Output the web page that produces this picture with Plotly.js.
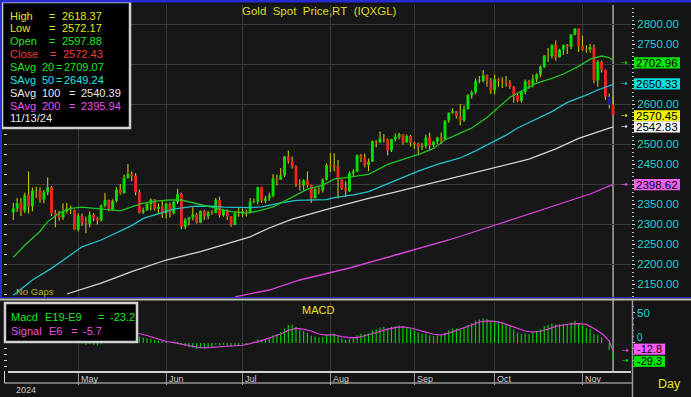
<!DOCTYPE html>
<html><head><meta charset="utf-8">
<script src="https://cdn.plot.ly/plotly-3.0.1.min.js"></script>
<style>html,body{margin:0;padding:0;background:#141414;overflow:hidden}#chart{width:691px;height:397px}</style>
</head><body><div id="chart"></div>
<script>
const FONT = 'Liberation Sans, Arial, sans-serif';
const yearLabel = '2024';
// trading days (MM-DD, 2024)
const dates = ['04-08','04-09','04-10','04-11','04-12','04-15','04-16','04-17','04-18','04-19','04-22','04-23','04-24','04-25','04-26','04-29','04-30',
'05-01','05-02','05-03','05-06','05-07','05-08','05-09','05-10','05-13','05-14','05-15','05-16','05-17','05-20','05-21','05-22','05-23','05-24','05-27','05-28','05-29','05-30','05-31',
'06-03','06-04','06-05','06-06','06-07','06-10','06-11','06-12','06-13','06-14','06-17','06-18','06-19','06-20','06-21','06-24','06-25','06-26','06-27','06-28',
'07-01','07-02','07-03','07-04','07-05','07-08','07-09','07-10','07-11','07-12','07-15','07-16','07-17','07-18','07-19','07-22','07-23','07-24','07-25','07-26','07-29','07-30','07-31',
'08-01','08-02','08-05','08-06','08-07','08-08','08-09','08-12','08-13','08-14','08-15','08-16','08-19','08-20','08-21','08-22','08-23','08-26','08-27','08-28','08-29','08-30',
'09-02','09-03','09-04','09-05','09-06','09-09','09-10','09-11','09-12','09-13','09-16','09-17','09-18','09-19','09-20','09-23','09-24','09-25','09-26','09-27','09-30',
'10-01','10-02','10-03','10-04','10-07','10-08','10-09','10-10','10-11','10-14','10-15','10-16','10-17','10-18','10-21','10-22','10-23','10-24','10-25','10-28','10-29','10-30','10-31',
'11-01','11-04','11-05','11-06','11-07','11-08','11-11','11-12','11-13'];

const openP = [2329,2339,2352,2333,2373,2344,2383,2383,2361,2379,2392,2327,2322,2316,2332,2338,2335,
2286,2320,2303,2301,2323,2314,2309,2346,2360,2336,2358,2386,2377,2415,2425,2421,2379,2329,2334,2350,2361,2338,2343,
2327,2350,2327,2355,2375,2293,2311,2316,2324,2303,2333,2319,2329,2328,2360,2322,2334,2319,2298,2327,
2326,2332,2330,2356,2356,2392,2358,2364,2371,2414,2411,2422,2469,2458,2445,2400,2396,2409,2397,2364,2387,2384,2411,
2447,2446,2443,2410,2390,2382,2427,2431,2472,2465,2447,2456,2507,2504,2514,2512,2484,2512,2518,2524,2504,2520,
2503,2500,2493,2495,2516,2497,2506,2516,2512,2558,2578,2582,2569,2559,2587,2622,2629,2657,2658,2672,2658,
2634,2662,2657,2656,2653,2643,2622,2608,2630,2657,2649,2662,2674,2693,2721,2720,2748,2717,2736,2747,2743,2774,2788,
2744,2736,2736,2742,2659,2706,2685,2618,2597.88];
const highP = [2353,2365,2365,2378,2431,2391,2393,2392,2385,2417,2395,2335,2333,2352,2353,2346,2336,
2326,2326,2319,2331,2327,2318,2349,2378,2361,2362,2392,2400,2423,2450,2431,2427,2386,2341,2353,2364,2362,2351,2360,
2354,2354,2358,2388,2378,2315,2318,2342,2328,2333,2335,2333,2335,2365,2368,2336,2336,2320,2332,2340,
2339,2336,2365,2364,2393,2393,2370,2378,2425,2424,2440,2470,2483,2469,2446,2412,2412,2431,2398,2390,2392,2414,2451,
2477,2477,2460,2412,2406,2431,2437,2474,2475,2476,2464,2509,2510,2531,2525,2514,2513,2526,2528,2525,2524,2523,
2505,2503,2503,2523,2529,2507,2518,2529,2560,2579,2589,2583,2600,2596,2625,2634,2664,2670,2685,2674,2665,
2673,2665,2667,2670,2660,2645,2625,2633,2661,2660,2673,2677,2696,2722,2740,2749,2759,2738,2749,2750,2775,2790,2789,
2771,2747,2750,2749,2710,2709,2686,2626,2618.37];
const lowP = [2310,2330,2320,2327,2326,2332,2365,2353,2352,2372,2320,2292,2308,2310,2326,2325,2285,
2281,2295,2277,2292,2307,2299,2306,2341,2332,2334,2354,2373,2376,2413,2407,2372,2326,2325,2333,2334,2334,2326,2315,
2314,2316,2324,2350,2287,2287,2297,2309,2301,2302,2310,2312,2323,2327,2316,2318,2310,2293,2297,2318,
2318,2319,2326,2352,2349,2353,2352,2358,2366,2396,2410,2417,2451,2439,2393,2384,2385,2392,2353,2364,2375,2379,2409,
2430,2432,2364,2385,2368,2380,2418,2430,2455,2442,2432,2455,2492,2502,2504,2471,2480,2506,2512,2499,2503,2494,
2488,2472,2485,2489,2485,2493,2500,2500,2510,2553,2575,2564,2547,2555,2586,2613,2624,2652,2654,2643,2625,
2624,2643,2640,2643,2638,2603,2605,2603,2624,2638,2641,2655,2667,2690,2705,2714,2708,2716,2723,2725,2737,2771,2730,
2733,2728,2728,2652,2643,2679,2610,2589,2572.17];
const closeP = [2339,2352,2333,2372,2344,2383,2384,2361,2379,2392,2327,2322,2316,2332,2338,2335,2286,
2320,2303,2301,2323,2314,2309,2346,2360,2336,2358,2386,2377,2415,2425,2421,2379,2329,2334,2350,2361,2338,2343,2327,
2350,2327,2355,2375,2293,2311,2316,2324,2303,2333,2319,2329,2328,2360,2322,2334,2319,2298,2327,2326,
2332,2330,2356,2357,2392,2358,2364,2371,2414,2411,2422,2469,2458,2445,2400,2396,2409,2397,2364,2387,2384,2411,2447,
2446,2443,2410,2390,2382,2427,2431,2472,2465,2447,2456,2507,2504,2514,2512,2484,2512,2518,2524,2504,2520,2503,
2500,2493,2495,2516,2497,2506,2516,2512,2558,2578,2582,2569,2559,2587,2622,2629,2657,2658,2672,2658,2634,
2662,2657,2656,2653,2643,2622,2608,2630,2657,2649,2662,2674,2693,2721,2720,2748,2717,2736,2747,2743,2774,2788,2744,
2736,2735,2742,2659,2706,2685,2618,2598,2572.43];
const highlightDate = '11-12';

const sma20Dates = ['04-08','04-11','04-17','04-19','04-24','04-29','05-02','05-07','05-10','05-16','05-21','05-24','05-30','06-04','06-07','06-12','06-17','06-21','06-26','07-02','07-05','07-11','07-16','07-19','07-24','07-30','08-02','08-07','08-12','08-15','08-22','08-29','09-04','09-09','09-12','09-18','09-23','09-27','10-02','10-07','10-11','10-16','10-22','10-25','10-31','11-05','11-08','11-12','11-13'];
const sma20Vals = [2217,2247,2282,2306,2327,2339,2342,2339,2337,2333,2343,2352,2358,2360,2360,2353,2345,2337,2331,2327,2332,2343,2357,2372,2387,2397,2412,2416,2420,2424,2449,2465,2477,2489,2510,2527,2540,2566,2592,2617,2637,2652,2664,2675,2694,2712,2720,2716,2709];
const sma50Dates = ['04-08','04-15','04-22','04-26','05-02','05-09','05-15','05-21','05-24','05-30','06-05','06-12','06-18','06-24','06-28','07-03','07-08','07-12','07-19','07-25','07-31','08-02','08-09','08-15','08-27','09-03','09-10','09-18','09-24','09-30','10-04','10-09','10-16','10-22','10-28','11-04','11-07','11-12','11-13'];
const sma50Vals = [2122,2160,2189,2215,2243,2260,2277,2296,2314,2325,2337,2344,2345,2342,2341,2341,2343,2351,2359,2360,2361,2366,2373,2381,2412,2432,2449,2465,2483,2503,2522,2540,2562,2581,2604,2622,2635,2645,2649];
const sma100Dates = ['04-26','05-09','05-21','06-03','06-14','06-26','07-03','07-10','07-18','08-01','08-15','08-27','09-13','10-02','10-14','10-23','10-31','11-13'];
const sma100Vals = [2125,2152,2181,2210,2231,2253,2268,2290,2312,2339,2364,2382,2412,2442,2462,2488,2514,2543];
const sma200Dates = ['06-27','07-10','07-22','08-08','08-27','09-13','10-02','10-21','11-05','11-13'];
const sma200Vals = [2118,2135,2160,2190,2225,2260,2300,2340,2375,2399];

const macdVals = [28,29,28,30,28,29,29,27,26,26,21,17,13,11,9,7,2,
1,-1,-3,-2,-3,-4,-1,3,4,6,10,12,14,20,22,19,11,9,8,7,5,4,3,
2,0,1,2,-3,-5,-7,-8,-10,-9,-9,-8,-7,-3,-4,-3,-4,-6,-5,-4,
-3,-2,0,2,6,6,7,8,13,15,18,24,30,31,27,23,20,17,12,11,9,10,14,
16,16,12,8,5,7,9,13,15,15,16,21,23,26,27,25,27,28,29,27,27,24,
21,18,16,16,13,12,12,12,17,21,24,24,23,25,30,33,37,39,41,40,37,
38,36,34,31,28,23,17,15,16,15,18,20,23,28,30,33,31,31,32,31,34,37,33,
29,26,24,15,14,10,0,-12,-29.3];
const sigDates = ['05-20','05-23','05-27','05-30','06-03','06-05','06-07','06-11','06-13','06-17','06-19','06-21','06-25','06-27','07-01','07-03','07-05','07-09','07-11','07-15','07-17','07-19','07-23','07-25','07-29','07-31','08-02','08-06','08-08','08-12','08-14','08-16','08-20','08-22','08-26','08-28','08-30','09-03','09-05','09-09','09-11','09-13','09-17','09-19','09-23','09-25','09-27','10-01','10-03','10-07','10-09','10-11','10-15','10-17','10-21','10-23','10-25','10-29','10-31','11-04','11-06','11-08','11-11','11-12','11-13'];
const sigVals = [20,16,12.5,6.5,2.5,0.5,-2,-5,-7,-8.3,-7.5,-6,-5,-4.3,-3.8,-1,2,6,10.8,15,21,24.3,23,20,15,13,13.7,10.5,9,9,12,16,20,23,25.5,26.7,25,22,18,14.5,13.2,16.5,21,24.5,30,35,36.7,36,33.5,29,24,20,18.2,19.5,23,27.7,30,32,32.3,31,24,16,10,3,-12.8];

const monthStarts = ['05-01','06-03','07-01','08-01','09-02','10-01','11-01'];
const monthNames = ['May','Jun','Jul','Aug','Sep','Oct','Nov'];
const priceTickVals = [2150,2200,2250,2300,2350,2450,2500,2600,2750,2800];
const macdTickVals = [0,50];
const priceTags = [2702.96, 2650.33, 2570.45, 2542.83, 2398.62];
const priceTagColors = ['#00e600','#00e1e1','#f0f000','#f4f4f4','#f060f0'];
const macdTags = [-12.8, -29.3];
const macdTagColors = ['#ff5cff','#00e600'];

// ---------- geometry helpers (layout only) ----------
const W=691,H=397,ML=8,MR=60,MT=5,MB=26;
const PW=W-ML-MR, PH=H-MT-MB;
const px = x => (x-ML)/PW, py = y => (H-MB-y)/PH;
const pos = d => dates.indexOf(d);
const X = dates.map((d,i)=>i);
const idx = arr => arr.map(pos);

const bodyBase = openP.map((o,i)=>Math.min(o,closeP[i]));
const bodyLen = openP.map((o,i)=>Math.max(Math.abs(closeP[i]-o),1.5));
const bodyCol = openP.map((o,i)=> dates[i]===highlightDate ? '#1c1ca0' : (closeP[i]>=o ? '#00e000' : '#f02222'));

const traces = [
 {type:'bar', x:X, base:lowP, y:highP.map((h,i)=>h-lowP[i]), width:0.28, marker:{color:'#cccc00',line:{width:0}}, xaxis:'x', yaxis:'y', hoverinfo:'skip'},
 {type:'bar', x:X, base:bodyBase, y:bodyLen, width:0.76, marker:{color:bodyCol,line:{width:0}}, xaxis:'x', yaxis:'y', hoverinfo:'skip'},
 {type:'scatter', mode:'lines', x:idx(sma200Dates), y:sma200Vals, line:{color:'#d844d8',width:1.3}, xaxis:'x', yaxis:'y'},
 {type:'scatter', mode:'lines', x:idx(sma100Dates), y:sma100Vals, line:{color:'#d4d4d4',width:1.3}, xaxis:'x', yaxis:'y'},
 {type:'scatter', mode:'lines', x:idx(sma50Dates), y:sma50Vals, line:{color:'#1cc4cc',width:1.3}, xaxis:'x', yaxis:'y'},
 {type:'scatter', mode:'lines', x:idx(sma20Dates), y:sma20Vals, line:{color:'#22c422',width:1.3}, xaxis:'x', yaxis:'y'},
 {type:'bar', x:X, y:macdVals, width:0.3, marker:{color:'#00d400',line:{width:0}}, xaxis:'x', yaxis:'y2', hoverinfo:'skip'},
 {type:'scatter', mode:'lines', x:idx(sigDates), y:sigVals, line:{color:'#e040e0',width:1.2}, xaxis:'x', yaxis:'y2'},
 {type:'scatter', x:[], y:[], xaxis:'x', yaxis:'y3'},
 {type:'scatter', x:[], y:[], xaxis:'x', yaxis:'y4'}
];

function txt(x,y,text,color,size,anchor,fam){
  return {xref:'paper',yref:'paper',x:px(x),y:py(y),text:text,showarrow:false,
    xanchor:anchor||'left',yanchor:'middle',borderpad:0,
    font:{family:fam||FONT,size:size||11,color:color}};
}
function pline(x0,y0,x1,y1,color,w){
  return {type:'line',xref:'paper',yref:'paper',x0:px(x0),y0:py(y0),x1:px(x1),y1:py(y1),line:{color:color,width:w},layer:'above'};
}

const ann = [];
const shapes = [];
// main legend box
shapes.push({type:'rect',xref:'paper',yref:'paper',x0:px(2),x1:px(130),y0:py(2),y1:py(128),fillcolor:'#000000',line:{color:'#d0d0d0',width:2.5},layer:'above'});
const Y = k => 15.6 + 12.85*k;
const YEL='#e6e61e', GRN='#1ee61e', RED='#f03c3c', CYN='#1ee6e6', WHT='#e8e8e8', MAG='#ea52ea';
ann.push(txt(9,Y(0),'High',YEL), txt(48,Y(0),'=',YEL), txt(61,Y(0),'2618.37',YEL));
ann.push(txt(9,Y(1),'Low',YEL), txt(48,Y(1),'=',YEL), txt(61,Y(1),'2572.17',YEL));
ann.push(txt(9,Y(2),'Open',GRN), txt(48,Y(2),'=',GRN), txt(61,Y(2),'2597.88',GRN));
ann.push(txt(9,Y(3),'Close',RED), txt(49,Y(3),'=',RED), txt(62,Y(3),'2572.43',RED));
ann.push(txt(9,Y(4),'SAvg',GRN), txt(41,Y(4),'20',GRN), txt(55,Y(4),'=',GRN), txt(63,Y(4),'2709.07',GRN));
ann.push(txt(9,Y(5),'SAvg',CYN), txt(41,Y(5),'50',CYN), txt(55,Y(5),'=',CYN), txt(63,Y(5),'2649.24',CYN));
ann.push(txt(9,Y(6),'SAvg',WHT), txt(41,Y(6),'100',WHT), txt(68,Y(6),'=',WHT), txt(80,Y(6),'2540.39',WHT));
ann.push(txt(9,Y(7),'SAvg',MAG), txt(41,Y(7),'200',MAG), txt(68,Y(7),'=',MAG), txt(80,Y(7),'2395.94',MAG));
ann.push(txt(9,Y(8),'11/13/24',WHT));
// MACD legend box
shapes.push({type:'rect',xref:'paper',yref:'paper',x0:px(5),x1:px(137),y0:py(303),y1:py(342),fillcolor:'#000000',line:{color:'#d0d0d0',width:2.5},layer:'above'});
ann.push(txt(10,316.5,'Macd',GRN), txt(44,316.5,'E19-E9',GRN), txt(97,316.5,'=',GRN), txt(109,316.5,'-23.2',GRN));
ann.push(txt(10,330.5,'Signal',MAG), txt(48,330.5,'E6',MAG), txt(70,330.5,'=',MAG), txt(82,330.5,'-5.7',MAG));
// titles
ann.push(txt(241,11,'Gold\u00a0\u00a0Spot\u00a0\u00a0Price,RT\u00a0\u00a0(IQXGL)','#dcdc1e',11.5));
ann.push(txt(301,310,'MACD','#e6e61e',11));
ann.push(txt(15,291,'No Gaps','#b4b428',9.5));
ann.push(txt(657,383.5,'Day','#e6e61e',12.5));
ann.push(txt(15,390,yearLabel,'#c8c8c8',9));
monthStarts.forEach((m,i)=>{
  ann.push({xref:'x',yref:'paper',x:pos(m),y:py(378.5),xanchor:'left',yanchor:'middle',xshift:1.5,text:monthNames[i],showarrow:false,borderpad:0,font:{family:FONT,size:9,color:'#c8c8c8'}});
});
// MACD axis labels (0 sits just above the -12.8 tag, as in the source)
macdTickVals.forEach(v=>{
  ann.push({xref:'paper',yref:'y2',x:px(636),y:v,yshift:(v===0?5:0),text:String(v),showarrow:false,xanchor:'left',yanchor:'middle',borderpad:0,font:{family:FONT,size:(v===0?10:11.5),color:'#1ed2d2'}});
});
// price tags
priceTags.forEach((v,i)=>{
  shapes.push({type:'rect',xref:'paper',x0:px(634),x1:px(680),yref:'y',ysizemode:'pixel',yanchor:v,y0:-5.6,y1:5.6,fillcolor:priceTagColors[i],line:{width:0},layer:'above'});
  ann.push({xref:'paper',yref:'y',x:px(657),y:v,text:v.toFixed(2),showarrow:false,xanchor:'center',yanchor:'middle',borderpad:0,font:{family:FONT,size:11.5,color:'#000'}});
  ann.push({xref:'paper',yref:'y',x:px(624),y:v,text:'→',showarrow:false,xanchor:'center',yanchor:'middle',borderpad:0,font:{family:'DejaVu Sans',size:8,color:priceTagColors[i]}});
});
const macdShift = [1.5, -0.8];
macdTags.forEach((v,i)=>{
  shapes.push({type:'rect',xref:'paper',x0:px(634),x1:px(665),yref:'y2',ysizemode:'pixel',yanchor:v,y0:-5.5+macdShift[i],y1:5.5+macdShift[i],fillcolor:macdTagColors[i],line:{width:0},layer:'above'});
  ann.push({xref:'paper',yref:'y2',x:px(649.5),y:v,yshift:macdShift[i],text:v.toFixed(1),showarrow:false,xanchor:'center',yanchor:'middle',borderpad:0,font:{family:FONT,size:11,color:'#000'}});
  ann.push({xref:'paper',yref:'y2',x:px(625),y:v,text:'→',showarrow:false,xanchor:'center',yanchor:'middle',borderpad:0,font:{family:'DejaVu Sans',size:8,color:macdTagColors[i]}});
});
// frame lines
shapes.push(pline(0,1,691,1,'#2a2ad2',3));
shapes.push(pline(1,0,1,297,'#2a2ad2',2));
shapes.push(pline(0,297.5,691,297.5,'#2a2ab0',1));
shapes.push(pline(0,299.5,691,299.5,'#bdbdbd',2));
shapes.push(pline(632.5,300,632.5,397,'#9a9a9a',1.5));
shapes.push(pline(4,383,632,383,'#d0d0d0',1));
shapes.push(pline(4.5,371,4.5,383,'#d0d0d0',1));
// cursor line
shapes.push({type:'line',xref:'x',x0:pos('11-13'),x1:pos('11-13'),yref:'paper',y0:0,y1:1,line:{color:'#a8a8a8',width:1.5},layer:'below'});

const axTick = '#cfcfcf';
const layout = {
  width:W, height:H, margin:{l:ML,r:MR,t:MT,b:MB,pad:0},
  paper_bgcolor:'#141414', plot_bgcolor:'#171717',
  showlegend:false, barmode:'overlay', hovermode:false,
  font:{family:FONT,color:'#dddddd'},
  xaxis:{anchor:'y2', range:[-1.39,161.7], tickvals:idx(monthStarts), showticklabels:false,
    ticks:'outside', ticklen:12, tickcolor:'#8c8c8c', tickwidth:1,
    showgrid:true, gridcolor:'#3a3a3a', gridwidth:1, zeroline:false,
    showline:true, linecolor:'#d0d0d0', linewidth:1.5},
  yaxis:{domain:[(H-MB-297)/PH,1], side:'right', anchor:'x', range:[2117.5,2847.5], tickvals:priceTickVals,
    tickformat:'.2f', ticks:'outside', ticklen:3, tickcolor:axTick, showgrid:false, zeroline:false, showline:false,
    tickfont:{family:FONT,size:11.5,color:'#1ed2d2'},
    minor:{tickmode:'linear', tick0:0, dtick:10, ticks:'outside', ticklen:2, tickcolor:'#bdbdbd', showgrid:false}},
  yaxis2:{domain:[0,(H-MB-302)/PH], side:'right', anchor:'x', range:[-46.7,68.3], tickvals:macdTickVals, showticklabels:false,
    ticks:'outside', ticklen:3, tickcolor:axTick, showgrid:false, zeroline:false, showline:false,
    minor:{tickmode:'linear', tick0:0, dtick:10, ticks:'outside', ticklen:2, tickcolor:'#bdbdbd', showgrid:false}},
  yaxis3:{overlaying:'y', side:'left', anchor:'x', range:[2117.5,2847.5], tick0:0, dtick:100,
    showgrid:true, gridcolor:'#3a3a3a', gridwidth:1, showticklabels:false, ticks:'outside', ticklen:3, tickcolor:axTick,
    zeroline:false, showline:false, minor:{dtick:25, ticks:'outside', ticklen:3, tickcolor:axTick, showgrid:false}},
  yaxis4:{overlaying:'y2', side:'left', anchor:'x', range:[-46.7,68.3], tick0:0, dtick:10,
    showgrid:false, showticklabels:false, ticks:'outside', ticklen:3, tickcolor:axTick, zeroline:false, showline:false},
  shapes:shapes, annotations:ann
};
Plotly.newPlot('chart', traces, layout, {staticPlot:true, displayModeBar:false});
</script>
</body></html>
